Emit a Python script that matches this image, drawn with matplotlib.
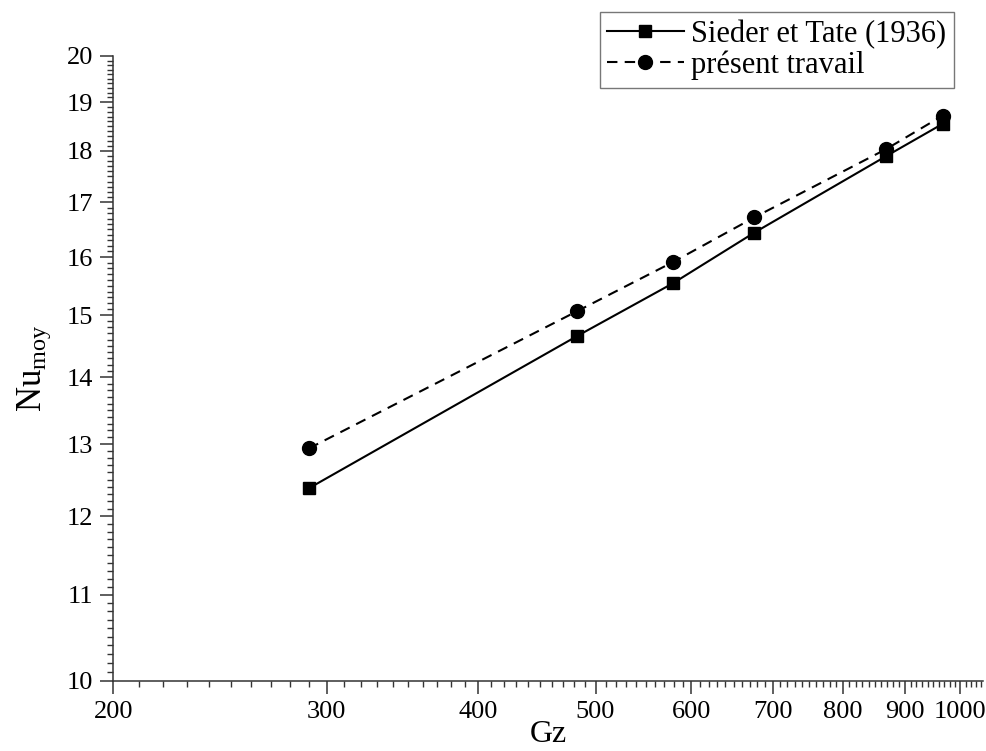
import matplotlib
matplotlib.use("Agg")
import matplotlib.pyplot as plt
from matplotlib.ticker import FixedLocator, NullFormatter, FixedFormatter

plt.rcParams['font.family'] = ['Liberation Serif', 'DejaVu Serif']
plt.rcParams['mathtext.fontset'] = 'custom'
plt.rcParams['mathtext.rm'] = 'Liberation Serif'
plt.rcParams['mathtext.it'] = 'Liberation Serif:italic'

gz = [290, 483, 579, 676, 869, 967]
nu_sieder = [12.38, 14.66, 15.54, 16.44, 17.90, 18.55]
nu_present = [12.94, 15.07, 15.91, 16.72, 18.04, 18.72]

x_major = [200, 300, 400, 500, 600, 700, 800, 900, 1000]
x_minor = list(range(210, 1050, 10))
y_major = list(range(10, 21))
y_minor = [10 + 0.1 * i for i in range(101)]

fig = plt.figure(figsize=(9.86, 7.51), dpi=100)
ax = fig.add_axes([113.3 / 986, 1 - 680.7 / 751, (983 - 113.3) / 986, (680.7 - 56) / 751])

ax.plot(gz, nu_sieder, '-', color='black', lw=1.5, marker='s', ms=9,
        label='Sieder et Tate (1936)')
ax.plot(gz, nu_present, '--', color='black', lw=1.5, marker='o', ms=10,
        dashes=(5, 3.5), label='présent travail')

ax.set_xscale('log')
ax.set_yscale('log')
ax.set_xlim(200, 1044)
ax.set_ylim(10, 20)

ax.xaxis.set_major_locator(FixedLocator(x_major))
ax.xaxis.set_major_formatter(FixedFormatter([str(v) for v in x_major]))
ax.xaxis.set_minor_locator(FixedLocator(x_minor))
ax.xaxis.set_minor_formatter(NullFormatter())
ax.yaxis.set_major_locator(FixedLocator(y_major))
ax.yaxis.set_major_formatter(FixedFormatter([str(v) for v in y_major]))
ax.yaxis.set_minor_locator(FixedLocator(y_minor))
ax.yaxis.set_minor_formatter(NullFormatter())

for s in ['top', 'right']:
    ax.spines[s].set_visible(False)
for s in ['left', 'bottom']:
    ax.spines[s].set_linewidth(1.1)
    ax.spines[s].set_color('#333333')

ax.tick_params(which='major', direction='out', length=9.5, width=1.1,
               labelsize=19, color='#333333', pad=5)
ax.tick_params(which='minor', direction='out', length=4.5, width=1.0,
               color='#333333')

ax.set_xlabel('Gz', fontsize=23, labelpad=-2)
ax.set_ylabel(r'Nu$_{\mathrm{moy}}$', fontsize=25, labelpad=10)

leg = ax.legend(loc='upper right', bbox_to_anchor=(954 / 986, 1 - 12 / 751),
                bbox_transform=fig.transFigure, fontsize=22, frameon=True,
                fancybox=False, handlelength=2.5, borderpad=0.25,
                labelspacing=0.05, handletextpad=0.25, borderaxespad=0)
leg.get_frame().set_edgecolor('#555555')
leg.get_frame().set_linewidth(1.0)

fig.savefig('out.png', dpi=100)
